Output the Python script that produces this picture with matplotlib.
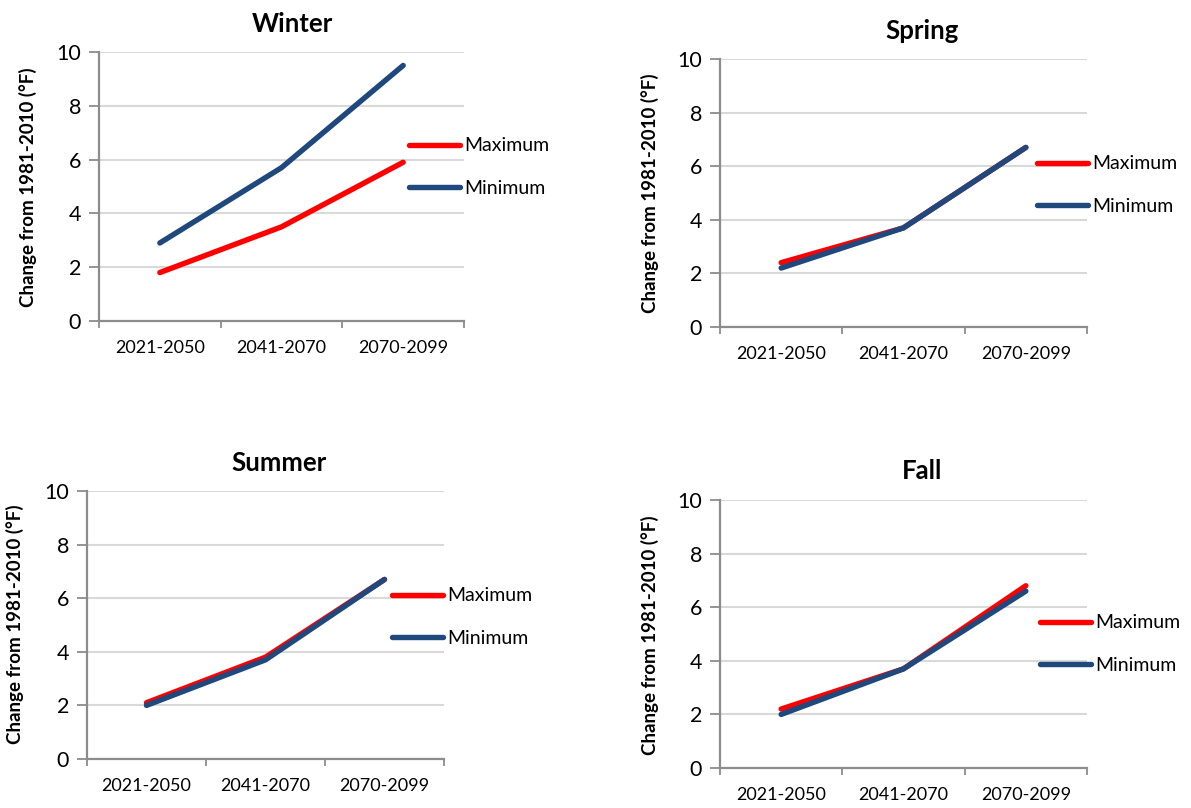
import matplotlib
matplotlib.use('Agg')
import matplotlib.pyplot as plt
from matplotlib.lines import Line2D

plt.rcParams['font.family'] = ['Lato', 'DejaVu Sans']

periods = ['2021-2050', '2041-2070', '2070-2099']
seasons = ['Winter', 'Spring', 'Summer', 'Fall']

winter_max = [1.8, 3.5, 5.9]
winter_min = [2.9, 5.7, 9.5]
spring_max = [2.4, 3.7, 6.7]
spring_min = [2.2, 3.7, 6.7]
summer_max = [2.1, 3.8, 6.7]
summer_min = [2.0, 3.7, 6.7]
fall_max = [2.2, 3.7, 6.8]
fall_min = [2.0, 3.7, 6.6]

W, H = 1191, 808
RED = '#ff0000'
BLUE = '#1f497d'
GRID = '#d9d9d9'
SPINE = '#8c8c8c'


def px_box(left, top, right, bottom):
    # pixel box -> figure fraction
    return [left / W, 1 - bottom / H, (right - left) / W, (bottom - top) / H]


def rysuj(fig, box, title, y_max, y_min, title_xy, ylab_xy, leg_xy):
    ax = fig.add_axes(px_box(*box))
    x = list(range(len(periods)))
    ax.plot(x, y_max, color=RED, lw=3.9, solid_capstyle='round', solid_joinstyle='round', zorder=3)
    ax.plot(x, y_min, color=BLUE, lw=3.9, solid_capstyle='round', solid_joinstyle='round', zorder=4)
    ax.set_xlim(-0.5, len(periods) - 0.5)
    ax.set_ylim(0, 10)
    ax.set_yticks([0, 2, 4, 6, 8, 10])
    ax.set_xticks(x)
    ax.set_xticklabels(periods, fontsize=13)
    ax.set_xticks([i - 0.5 for i in range(len(periods) + 1)], minor=True)
    ax.tick_params(axis='x', which='major', length=0, pad=14)
    ax.tick_params(axis='x', which='minor', length=5, width=1.3, color=SPINE, direction='out')
    ax.tick_params(axis='y', length=7, width=1.3, color=SPINE, direction='out', labelsize=15.5, pad=6)
    ax.grid(axis='y', color=GRID, lw=1.5, zorder=0)
    ax.set_axisbelow(True)
    for s in ['top', 'right']:
        ax.spines[s].set_visible(False)
    for s in ['left', 'bottom']:
        ax.spines[s].set_color(SPINE)
        ax.spines[s].set_linewidth(1.6)

    fig.text(title_xy[0] / W, 1 - title_xy[1] / H, title, fontsize=18.5, fontweight='bold',
             ha='center', va='center')
    fig.text(ylab_xy[0] / W, 1 - ylab_xy[1] / H, 'Change from 1981-2010 (°F)', fontsize=13.5,
             fontweight='bold', rotation=90, ha='center', va='center')

    handles = [Line2D([0], [0], color=RED, lw=3.9, solid_capstyle='round'),
               Line2D([0], [0], color=BLUE, lw=3.9, solid_capstyle='round')]
    fig.legend(handles, ['Maximum', 'Minimum'], loc='center left',
               bbox_to_anchor=(leg_xy[0] / W, 1 - leg_xy[1] / H), frameon=False,
               fontsize=14, handlelength=2.6, handletextpad=0.25, labelspacing=1.3,
               borderpad=0, borderaxespad=0)
    return ax


fig = plt.figure(figsize=(W / 100, H / 100), dpi=100)

rysuj(fig, (99, 52, 464, 321), 'Winter', winter_max, winter_min, (292, 24), (28, 187), (409, 167))
rysuj(fig, (720, 59, 1087, 327), 'Spring', spring_max, spring_min, (922, 31), (650, 193), (1037, 185))
rysuj(fig, (87, 491, 444, 759), 'Summer', summer_max, summer_min, (279, 463), (15, 624), (392, 617))
rysuj(fig, (720, 500, 1087, 768), 'Fall', fall_max, fall_min, (922, 471), (650, 635), (1040, 644))

plt.savefig('out.png', dpi=100)
